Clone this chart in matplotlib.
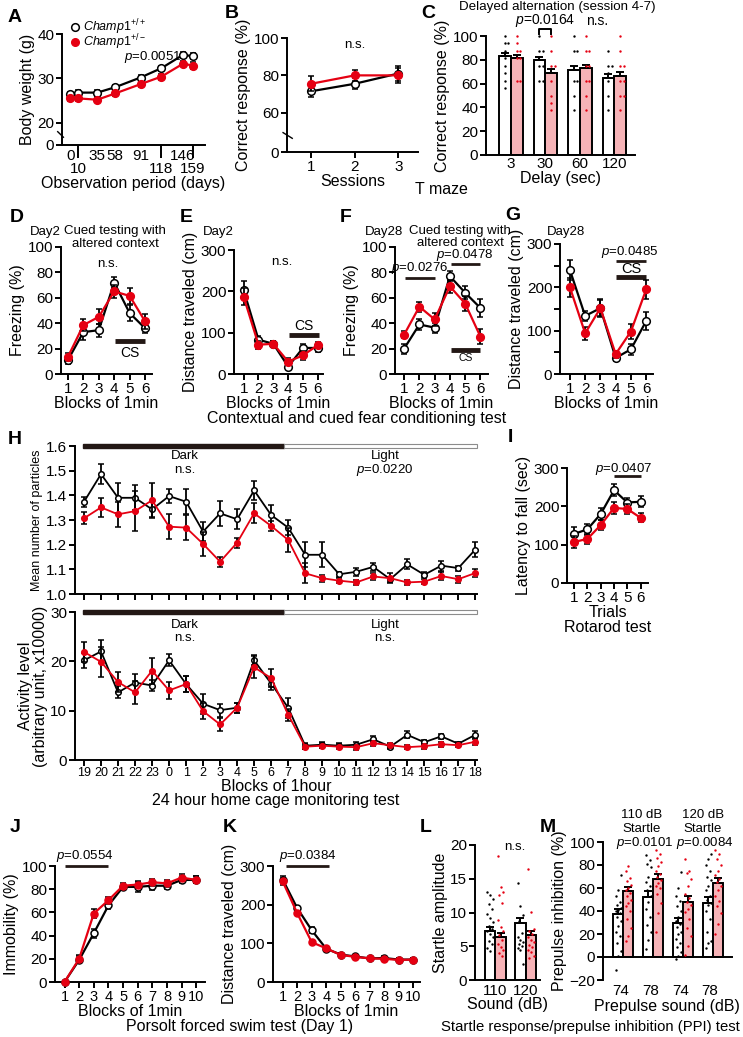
import numpy as np
import matplotlib
matplotlib.use("Agg")
from matplotlib import pyplot as plt
from matplotlib.patches import Rectangle
from matplotlib import transforms as mtransforms

RED = "#E50012"
PINK = "#F6B3B7"
W, H = 743, 1037
TICK = 11
LBL = 11.5
SMALL = 9.5

# A body weight
days = [0, 10, 35, 58, 91, 118, 146, 159]
bw_wt = [26.5, 26.8, 26.8, 28.0, 30.2, 32.3, 35.3, 35.0]
bw_wt_err = [0.5, 0.5, 0.5, 0.5, 0.6, 0.6, 0.7, 0.7]
bw_het = [25.5, 25.5, 25.2, 26.6, 28.7, 30.4, 33.3, 32.9]
bw_het_err = [0.6, 0.6, 0.5, 0.6, 0.6, 0.7, 0.6, 0.7]

# B T maze sessions
sessions = [1, 2, 3]
tm_wt = [71.5, 75.5, 81.0]
tm_wt_err = [3.0, 3.0, 4.0]
tm_het = [75.5, 80.0, 80.0]
tm_het_err = [4.0, 3.0, 4.0]

# C delayed alternation
delays = ["3", "30", "60", "120"]
da_wt = [83, 79.5, 71.5, 65]
da_wt_err = [3.0, 2.5, 3.5, 3.0]
da_het = [81.5, 69, 73.5, 66.5]
da_het_err = [2.5, 3.5, 2.5, 3.5]
da_wt_dots = [
    [100, 93.75, 93.75, 87.5, 81.25, 75, 68.75, 62.5, 56.25],
    [100, 87.5, 87.5, 75, 75, 62.5, 62.5],
    [100, 87.5, 87.5, 62.5, 62.5, 50, 37.5],
    [87.5, 75, 75, 68.75, 62.5, 50, 37.5],
]
da_het_dots = [
    [100, 93.75, 87.5, 87.5, 81.25, 81.25, 62.5, 62.5],
    [100, 87.5, 75, 75, 62.5, 50, 43.75, 37.5],
    [100, 87.5, 87.5, 75, 75, 62.5, 62.5, 50, 37.5],
    [100, 87.5, 75, 75, 62.5, 62.5, 50, 50, 37.5],
]

# D-G fear conditioning
blocks6 = [1, 2, 3, 4, 5, 6]
d2_frz_wt = [11, 33, 34.5, 72, 48, 36]
d2_frz_wt_err = [3, 6, 5, 4, 6, 4]
d2_frz_het = [13.5, 38.5, 45, 65, 61.5, 41.5]
d2_frz_het_err = [3, 5, 6, 5, 6, 6]
d2_dist_wt = [203, 83, 73, 18, 63, 63]
d2_dist_wt_err = [22, 8, 8, 5, 10, 10]
d2_dist_het = [187, 71, 73, 30, 45, 70]
d2_dist_het_err = [20, 10, 8, 8, 10, 8]
d28_frz_wt = [20, 39, 36.5, 77, 64, 52]
d28_frz_wt_err = [4, 4, 4, 4, 5, 7]
d28_frz_het = [31, 53, 43, 69, 55.5, 29.5]
d28_frz_het_err = [3, 4, 5, 5, 6, 6]
d28_dist_wt = [240, 134, 152, 37, 57, 122]
d28_dist_wt_err = [22, 12, 20, 8, 12, 20]
d28_dist_het = [200, 94, 152, 46, 98, 195]
d28_dist_het_err = [22, 15, 18, 8, 18, 22]

# H home cage monitoring
hours = ["19", "20", "21", "22", "23", "0", "1", "2", "3", "4", "5", "6",
         "7", "8", "9", "10", "11", "12", "13", "14", "15", "16", "17", "18"]
part_wt = [1.374, 1.486, 1.39, 1.39, 1.343, 1.397, 1.374, 1.253, 1.327, 1.303, 1.42, 1.32,
           1.269, 1.159, 1.159, 1.08, 1.09, 1.11, 1.06, 1.12, 1.078, 1.115, 1.105, 1.18]
part_wt_err = [0.02, 0.04, 0.06, 0.05, 0.03, 0.03, 0.05, 0.04, 0.05, 0.04, 0.04, 0.04,
               0.03, 0.05, 0.05, 0.01, 0.015, 0.015, 0.01, 0.02, 0.01, 0.02, 0.01, 0.03]
part_het = [1.307, 1.351, 1.323, 1.336, 1.38, 1.273, 1.269, 1.203, 1.131, 1.208, 1.327, 1.276,
            1.219, 1.084, 1.064, 1.054, 1.047, 1.071, 1.064, 1.047, 1.05, 1.073, 1.06, 1.085]
part_het_err = [0.025, 0.04, 0.05, 0.08, 0.07, 0.05, 0.05, 0.05, 0.02, 0.02, 0.04, 0.02,
                0.05, 0.04, 0.015, 0.01, 0.01, 0.015, 0.02, 0.01, 0.01, 0.015, 0.015, 0.015]
act_wt = [20.2, 22.0, 13.7, 15.7, 15.1, 20.2, 15.4, 11.4, 10.1, 10.6, 20.2, 15.5,
          10.6, 2.9, 3.1, 2.9, 3.1, 4.2, 2.7, 5.1, 3.6, 4.8, 3.3, 5.1]
act_wt_err = [1.5, 2.3, 1.2, 1.8, 1.2, 1.2, 1.6, 2.0, 1.3, 1.0, 1.0, 1.3,
              2.0, 0.6, 0.6, 0.5, 0.5, 0.6, 0.5, 0.7, 0.5, 0.5, 0.4, 0.7]
act_het = [21.9, 19.9, 15.8, 13.7, 18.1, 14.1, 15.4, 9.9, 7.2, 10.6, 18.8, 16.6,
           9.2, 2.7, 2.9, 2.7, 2.6, 3.4, 3.0, 2.6, 2.8, 3.2, 3.0, 3.7]
act_het_err = [2.0, 3.0, 2.0, 2.4, 2.6, 1.8, 1.6, 1.6, 1.3, 1.0, 2.2, 1.8,
               1.2, 0.5, 0.5, 0.5, 0.5, 0.5, 0.5, 0.4, 0.5, 0.5, 0.4, 0.6]

# I rotarod
trials = [1, 2, 3, 4, 5, 6]
rot_wt = [128, 140, 180, 242, 210, 212]
rot_wt_err = [18, 15, 15, 15, 12, 15]
rot_het = [107, 115, 151, 196, 193, 170]
rot_het_err = [15, 12, 13, 15, 12, 12]

# J-K forced swim
blocks10 = [1, 2, 3, 4, 5, 6, 7, 8, 9, 10]
fst_imm_wt = [0, 19, 42, 66, 82, 82, 83, 83, 88, 88]
fst_imm_wt_err = [1, 3, 4, 3, 2, 4, 4, 3, 3, 3]
fst_imm_het = [0, 20, 59, 70.5, 83, 84, 86, 85, 90, 88]
fst_imm_het_err = [1, 3, 4, 3, 2, 3, 3, 3, 3, 3]
fst_dist_wt = [265, 191, 134, 86, 71, 66, 61, 62, 58, 58]
fst_dist_wt_err = [8, 6, 8, 5, 4, 4, 4, 4, 4, 4]
fst_dist_het = [260, 178, 103, 87, 70, 65, 61, 60, 57, 58]
fst_dist_het_err = [8, 6, 5, 5, 4, 4, 4, 4, 4, 4]

# L startle
startle_db = ["110", "120"]
startle_wt = [7.3, 8.4]
startle_wt_err = [0.6, 0.8]
startle_het = [6.4, 6.6]
startle_het_err = [0.6, 0.7]
startle_wt_dots = [
    [13.0, 12.6, 12.0, 11.2, 10.5, 9.8, 9.2, 8.6, 8.0, 7.6, 7.2, 6.8, 6.3, 5.8, 5.3, 4.8, 4.3],
    [14.3, 11.0, 9.6, 8.8, 7.0, 6.3, 5.9, 5.6, 5.3, 5.0, 4.7, 4.4, 2.3],
]
startle_het_dots = [
    [18.3, 13.8, 13.1, 12.6, 11.4, 8.9, 7.9, 7.2, 6.6, 6.0, 5.4, 4.9, 4.5, 4.0, 3.6],
    [16.5, 10.1, 7.6, 7.2, 6.8, 6.4, 6.0, 5.6, 5.2, 4.9, 4.5, 4.1, 3.6, 3.2],
]

# M prepulse inhibition
ppi_labels = ["74", "78", "74", "78"]
ppi_wt = [37.5, 52.5, 29.5, 47]
ppi_wt_err = [4, 5, 4, 5]
ppi_het = [57, 68, 48, 64.5]
ppi_het_err = [4, 4, 5, 4]
ppi_wt_dots = [
    [-11, 1, 5, 12, 18, 22, 27, 31, 35, 38, 40, 41, 43, 45, 48, 53, 58, 71],
    [7, 15, 22, 28, 35, 42, 48, 53, 58, 62, 65, 70, 78, 81, 84, 89],
    [-2, 1, 4, 9, 12, 16, 20, 22, 26, 29, 31, 35, 40, 44, 49, 53, 60, 74],
    [8, 12, 14, 22, 33, 40, 45, 47, 50, 53, 58, 62, 67, 70, 75, 80, 85, 90],
]
ppi_het_dots = [
    [14, 18, 25, 33, 40, 44, 47, 50, 53, 56, 58, 60, 63, 66, 69, 75, 79],
    [22, 38, 47, 55, 60, 62, 64, 67, 70, 72, 75, 79, 83, 86, 90, 93],
    [2, 10, 18, 25, 33, 39, 42, 45, 48, 51, 55, 62, 68, 73, 75, 85],
    [20, 29, 38, 44, 49, 53, 58, 62, 65, 68, 71, 75, 80, 85, 90, 93],
]

plt.rcParams["font.family"] = ["Liberation Sans", "DejaVu Sans"]
plt.rcParams["mathtext.fontset"] = "custom"
plt.rcParams["mathtext.rm"] = "Liberation Sans"
plt.rcParams["mathtext.it"] = "Liberation Sans:italic"
plt.rcParams["mathtext.sf"] = "Liberation Sans"
plt.rcParams["axes.linewidth"] = 1.4

fig = plt.figure(figsize=(W / 100, H / 100), dpi=100)


def px_axes(x0, y0, x1, y1):
    # axes rectangle given in picture pixels (top-left origin)
    return fig.add_axes([x0 / W, 1 - y1 / H, (x1 - x0) / W, (y1 - y0) / H])


def ftext(x, y, s, **kw):
    kw.setdefault("ha", "center")
    kw.setdefault("va", "center")
    fig.text(x / W, 1 - y / H, s, **kw)


def clean(ax, fs=TICK):
    ax.spines["top"].set_visible(False)
    ax.spines["right"].set_visible(False)
    ax.tick_params(labelsize=fs, width=1.4, length=4, pad=1.5)


def pair(ax, x, wt, wt_err, het, het_err, ms=5.5, lw=1.6, cap=2.5):
    kw = dict(fmt="-o", ms=ms, lw=lw, ecolor="black", elinewidth=1.3,
              capsize=cap, capthick=1.3, mew=1.1, clip_on=False)
    ax.errorbar(x, wt, yerr=wt_err, color="black", mfc="white", mec="black", zorder=3, **kw)
    ax.errorbar(x, het, yerr=het_err, color=RED, mfc=RED, mec=RED, zorder=4, **kw)


def spread(vals, step, mode):
    offs = []
    if mode == "dup":
        seen = {}
        for v in vals:
            n = seen.get(v, 0)
            seen[v] = n + 1
            offs.append([0, 1, -1, 2, -2][n % 5] * step)
    else:
        for i, v in enumerate(vals):
            offs.append([-1, 0, 1, -0.5, 0.5][i % 5] * step)
    return np.array(offs)


def bars(ax, wt, wt_err, het, het_err, wt_dots, het_dots, w, step, mode):
    x = np.arange(len(wt))
    ax.bar(x - w / 2, wt, w, color="white", edgecolor="black", lw=1.4, zorder=2)
    ax.bar(x + w / 2, het, w, color=PINK, edgecolor="black", lw=1.4, zorder=2)
    z = np.zeros(len(wt))
    ax.errorbar(x - w / 2, wt, yerr=[z, wt_err], fmt="none", ecolor="black",
                elinewidth=1.4, capsize=3, capthick=1.4, zorder=3)
    ax.errorbar(x + w / 2, het, yerr=[z, het_err], fmt="none", ecolor="black",
                elinewidth=1.4, capsize=3, capthick=1.4, zorder=3)
    for i in range(len(wt)):
        ax.scatter(x[i] - w / 2 + spread(wt_dots[i], step, mode), wt_dots[i],
                   s=3, color="black", lw=0, zorder=5, clip_on=False)
        ax.scatter(x[i] + w / 2 + spread(het_dots[i], step, mode), het_dots[i],
                   s=3, color=RED, lw=0, zorder=5, clip_on=False)
    ax.set_xticks(x, [])
    ax.tick_params(axis="x", length=0)


def pbar(ax, x0, x1, y, lw=2.2):
    ax.plot([x0, x1], [y, y], color="#231815", lw=lw, solid_capstyle="butt", clip_on=False)


def ybreak(ax, xa, ya):
    ax.plot(xa, ya, transform=ax.transAxes, color="black", lw=1.0, clip_on=False)


PV = r"$p$"

# ---- A ----
ax = px_axes(62, 34, 205, 145)
clean(ax)
pair(ax, days, bw_wt, bw_wt_err, bw_het, bw_het_err)
ax.set_ylim(15, 40)
ax.set_yticks([15, 20, 30, 40], ["0", "20", "30", "40"])
ax.set_xlim(-10.7, 174.5)
ax.set_xticks([0, 35, 58, 91, 146], ["0", "35", "58", "91", "146"])
ax.set_xticks([10, 118, 159], ["10", "118", "159"], minor=True)
ax.tick_params(axis="x", which="major", length=0, pad=3)
ax.tick_params(axis="x", which="minor", length=9.5, width=1.4, pad=3, labelsize=TICK)
ax.set_ylabel("Body weight (g)", fontsize=LBL, labelpad=2)
ax.set_xlabel("Observation period (days)", fontsize=LBL, labelpad=0)
ybreak(ax, [-0.03, 0.01], [0.12, 0.07])
ax.plot([0.09], [1.065], "o", ms=5.5, mfc="white", mec="black", mew=1.1,
        transform=ax.transAxes, clip_on=False)
ax.plot([0.09], [0.925], "o", ms=5.5, mfc=RED, mec=RED, transform=ax.transAxes, clip_on=False)
ax.text(0.145, 1.065, r"$\mathit{Champ1}^{+/+}$", transform=ax.transAxes, fontsize=9, va="center")
ax.text(0.145, 0.925, r"$\mathit{Champ1}^{+/-}$", transform=ax.transAxes, fontsize=9, va="center")
ax.text(0.635, 0.79, PV + "=0.0051", transform=ax.transAxes, fontsize=SMALL, ha="center", va="center")

# ---- B ----
ax = px_axes(287, 38, 418, 152)
clean(ax)
pair(ax, sessions, tm_wt, tm_wt_err, tm_het, tm_het_err)
ax.set_ylim(39, 100)
ax.set_yticks([39, 60, 80, 100], ["0", "60", "80", "100"])
ax.set_xlim(0.45, 3.45)
ax.set_xticks(sessions)
ax.set_ylabel("Correct response (%)", fontsize=LBL, labelpad=2)
ax.set_xlabel("Sessions", fontsize=LBL, labelpad=0)
ybreak(ax, [-0.03, 0.04], [0.17, 0.12])
ax.text(2, 96, "n.s.", fontsize=SMALL, ha="center", va="center")

# ---- C ----
ax = px_axes(486, 36, 635, 155)
clean(ax)
bars(ax, da_wt, da_wt_err, da_het, da_het_err, da_wt_dots, da_het_dots, 0.34, 0.1, "dup")
ax.set_ylim(0, 100)
ax.set_yticks([0, 20, 40, 60, 80, 100])
ax.set_xlim(-0.72, 3.6)
ax.set_xticks(range(4), delays)
ax.set_ylabel("Correct response (%)", fontsize=LBL, labelpad=2)
ax.set_xlabel("Delay (sec)", fontsize=LBL, labelpad=0)
ax.plot([0.83, 0.83, 1.17, 1.17], [102, 106, 106, 102], color="black", lw=1.4, clip_on=False)
ax.text(1.0, 113, PV + "=0.0164", fontsize=10, ha="center", va="center")
ax.text(2.5, 113, "n.s.", fontsize=10, ha="center", va="center")
ftext(557, 7, "Delayed alternation (session 4-7)", fontsize=9.6)
ftext(441, 190, "T maze", fontsize=LBL)


def six_block(ax, ymax, yticks):
    clean(ax)
    ax.set_ylim(0, ymax)
    ax.set_yticks(yticks)
    ax.set_xticks(blocks6)
    ax.set_xlabel("Blocks of 1min", fontsize=LBL, labelpad=0)


# ---- D ----
ax = px_axes(61, 247, 152, 374)
pair(ax, blocks6, d2_frz_wt, d2_frz_wt_err, d2_frz_het, d2_frz_het_err)
six_block(ax, 100, [0, 20, 40, 60, 80, 100])
ax.set_xlim(0.55, 6.45)
ax.set_ylabel("Freezing (%)", fontsize=LBL, labelpad=2)
pbar(ax, 4.05, 6.0, 26, lw=3.5)
ax.text(5.0, 16.5, "CS", fontsize=10, ha="center", va="center")
ax.text(3.6, 87, "n.s.", fontsize=SMALL, ha="center", va="center")
ftext(30, 232, "Day2", fontsize=SMALL, ha="left")
ftext(115, 231, "Cued testing with", fontsize=SMALL)
ftext(115, 244, "altered context", fontsize=SMALL)

# ---- E ----
ax = px_axes(234, 250, 323, 374)
pair(ax, blocks6, d2_dist_wt, d2_dist_wt_err, d2_dist_het, d2_dist_het_err)
six_block(ax, 300, [0, 100, 200, 300])
ax.set_xlim(0.35, 6.35)
ax.set_ylabel("Distance traveled (cm)", fontsize=LBL, labelpad=2)
pbar(ax, 4.04, 6.1, 94, lw=3.5)
ax.text(5.05, 116, "CS", fontsize=10, ha="center", va="center")
ax.text(3.6, 270, "n.s.", fontsize=SMALL, ha="center", va="center")
ftext(203, 232, "Day2", fontsize=SMALL, ha="left")

# ---- F ----
ax = px_axes(395, 247, 488, 374)
pair(ax, blocks6, d28_frz_wt, d28_frz_wt_err, d28_frz_het, d28_frz_het_err)
six_block(ax, 100, [0, 20, 40, 60, 80, 100])
ax.set_xlim(0.4, 6.5)
ax.set_ylabel("Freezing (%)", fontsize=LBL, labelpad=2)
pbar(ax, 1.07, 3.0, 75.6, lw=2)
pbar(ax, 4.1, 6.0, 87, lw=2)
pbar(ax, 4.1, 6.0, 19, lw=3.5)
ax.text(5.05, 12.5, "CS", fontsize=7.5, ha="center", va="center")
ax.text(2.05, 83.5, PV + "=0.0276", fontsize=SMALL, ha="center", va="center")
ax.text(5.0, 93.5, PV + "=0.0478", fontsize=SMALL, ha="center", va="center")
ftext(365, 232, "Day28", fontsize=SMALL, ha="left")
ftext(460, 231, "Cued testing with", fontsize=SMALL)
ftext(460, 243, "altered context", fontsize=SMALL)
ftext(357, 418, "Contextual and cued fear conditioning test", fontsize=LBL)

# ---- G ----
ax = px_axes(560, 244, 653, 374)
pair(ax, blocks6, d28_dist_wt, d28_dist_wt_err, d28_dist_het, d28_dist_het_err)
six_block(ax, 300, [0, 100, 200, 300])
ax.set_yticks([50, 150, 250], minor=True)
ax.tick_params(axis="y", which="minor", length=4, width=1.4)
ax.set_xlim(0.35, 6.45)
ax.set_ylabel("Distance traveled (cm)", fontsize=LBL, labelpad=2)
pbar(ax, 4.0, 6.0, 261, lw=2)
pbar(ax, 4.0, 6.0, 224, lw=3.5)
ax.text(5.0, 242, "CS", fontsize=10.5, ha="center", va="center")
ax.text(4.9, 282, PV + "=0.0485", fontsize=SMALL, ha="center", va="center")
ftext(547, 232, "Day28", fontsize=SMALL, ha="left")


# ---- H ----
def light_dark(ax, h_px):
    trans = mtransforms.blended_transform_factory(ax.transData, ax.transAxes)
    hh = h_px / ax.bbox.height
    ax.add_patch(Rectangle((-0.05, 1 - hh / 2), 11.8, hh, transform=trans,
                           color="#231815", clip_on=False, zorder=6))
    ax.add_patch(Rectangle((11.75, 1 - hh / 2), 11.35, hh, transform=trans,
                           facecolor="white", edgecolor="#8c8c8c", lw=0.8, clip_on=False, zorder=6))


xh = np.arange(len(hours))
ax = px_axes(75, 446, 477, 594)
clean(ax)
pair(ax, xh, part_wt, part_wt_err, part_het, part_het_err, ms=4, lw=1.3, cap=2.2)
ax.set_ylim(1.0, 1.6)
ax.set_yticks([1.0, 1.1, 1.2, 1.3, 1.4, 1.5, 1.6])
ax.set_xlim(-0.53, 23.1)
ax.set_xticks(xh, [])
ax.set_ylabel("Mean number of particles", fontsize=9, labelpad=2)
light_dark(ax, 4.5)
ax.text(5.9, 1.559, "Dark", fontsize=SMALL, ha="center", va="center")
ax.text(5.9, 1.503, "n.s.", fontsize=SMALL, ha="center", va="center")
ax.text(17.7, 1.559, "Light", fontsize=SMALL, ha="center", va="center")
ax.text(17.7, 1.503, PV + "=0.0220", fontsize=SMALL, ha="center", va="center")

ax = px_axes(75, 612, 477, 760)
clean(ax)
pair(ax, xh, act_wt, act_wt_err, act_het, act_het_err, ms=4, lw=1.3, cap=2.2)
ax.set_ylim(0, 30)
ax.set_yticks([0, 10, 20, 30])
ax.set_xlim(-0.53, 23.1)
ax.set_xticks(xh, hours)
ax.tick_params(axis="x", labelsize=9, pad=1)
ax.set_ylabel("Activity level\n(arbitrary unit, x10000)", fontsize=LBL, labelpad=2, linespacing=1.0)
ax.set_xlabel("Blocks of 1hour", fontsize=LBL, labelpad=0)
light_dark(ax, 4.5)
ax.text(5.9, 27.4, "Dark", fontsize=SMALL, ha="center", va="center")
ax.text(5.9, 24.7, "n.s.", fontsize=SMALL, ha="center", va="center")
ax.text(17.7, 27.4, "Light", fontsize=SMALL, ha="center", va="center")
ax.text(17.7, 24.7, "n.s.", fontsize=SMALL, ha="center", va="center")
ftext(276, 801, "24 hour home cage monitoring test", fontsize=LBL)

# ---- I ----
ax = px_axes(567, 468, 648, 583)
clean(ax)
pair(ax, trials, rot_wt, rot_wt_err, rot_het, rot_het_err)
ax.set_ylim(0, 300)
ax.set_yticks([0, 100, 200, 300])
ax.set_xlim(0.47, 6.55)
ax.set_xticks(trials)
ax.set_ylabel("Latency to fall (sec)", fontsize=LBL, labelpad=2)
ax.set_xlabel("Trials", fontsize=LBL, labelpad=0)
pbar(ax, 4.0, 6.05, 279, lw=2)
ax.text(4.7, 297, PV + "=0.0407", fontsize=SMALL, ha="center", va="center")
ftext(608, 628, "Rotarod test", fontsize=LBL)

# ---- J ----
ax = px_axes(55, 866, 205, 982)
clean(ax)
pair(ax, blocks10, fst_imm_wt, fst_imm_wt_err, fst_imm_het, fst_imm_het_err, ms=5, cap=2.2)
ax.set_ylim(0, 100)
ax.set_yticks([0, 20, 40, 60, 80, 100])
ax.set_xlim(0.35, 10.6)
ax.set_xticks(blocks10)
ax.tick_params(axis="x", labelsize=10.5)
ax.set_ylabel("Immobility (%)", fontsize=LBL, labelpad=2)
ax.set_xlabel("Blocks of 1min", fontsize=LBL, labelpad=0)
pbar(ax, 1.0, 4.0, 100, lw=2)
ax.text(2.4, 109, PV + "=0.0554", fontsize=SMALL, ha="center", va="center")
ftext(240, 1027, "Porsolt forced swim test (Day 1)", fontsize=LBL)

# ---- K ----
ax = px_axes(273, 866, 420, 982)
clean(ax)
pair(ax, blocks10, fst_dist_wt, fst_dist_wt_err, fst_dist_het, fst_dist_het_err, ms=5, cap=2.2)
ax.set_ylim(0, 300)
ax.set_yticks([0, 100, 200, 300])
ax.set_xlim(0.33, 10.47)
ax.set_xticks(blocks10)
ax.tick_params(axis="x", labelsize=10.5)
ax.set_ylabel("Distance traveled (cm)", fontsize=LBL, labelpad=2)
ax.set_xlabel("Blocks of 1min", fontsize=LBL, labelpad=0)
pbar(ax, 1.2, 4.2, 300, lw=2)
ax.text(2.7, 325, PV + "=0.0384", fontsize=SMALL, ha="center", va="center")

# ---- L ----
ax = px_axes(475, 845, 540, 980)
clean(ax)
bars(ax, startle_wt, startle_wt_err, startle_het, startle_het_err,
     startle_wt_dots, startle_het_dots, 0.35, 0.09, "cycle")
ax.set_ylim(0, 20)
ax.set_yticks([0, 5, 10, 15, 20])
ax.set_xlim(-0.68, 1.48)
ax.set_xticks([0, 1], startle_db)
ax.tick_params(axis="x", pad=3)
ax.set_ylabel("Startle amplitude", fontsize=LBL, labelpad=2)
ax.set_xlabel("Sound (dB)", fontsize=LBL, labelpad=-1)
ftext(515, 847, "n.s.", fontsize=SMALL)

# ---- M ----
ax = px_axes(603, 842, 732, 980)
clean(ax)
bars(ax, ppi_wt, ppi_wt_err, ppi_het, ppi_het_err, ppi_wt_dots, ppi_het_dots, 0.33, 0.09, "cycle")
ax.spines["bottom"].set_position(("data", 0))
ax.set_ylim(-20, 100)
ax.set_yticks([-20, 0, 20, 40, 60, 80, 100])
ax.set_xlim(-0.68, 3.63)
for i, lab in enumerate(ppi_labels):
    ax.text(i - 0.1, -29.5, lab, fontsize=TICK, ha="center", va="center")
ax.set_ylabel("Prepulse inhibition (%)", fontsize=LBL, labelpad=2)
ftext(667, 1007, "Prepulse sound (dB)", fontsize=LBL)
ftext(642, 815, "110 dB", fontsize=SMALL)
ftext(642, 829, "Startle", fontsize=SMALL)
ftext(645, 843, PV + "=0.0101", fontsize=SMALL)
ftext(703, 815, "120 dB", fontsize=SMALL)
ftext(703, 829, "Startle", fontsize=SMALL)
ftext(705, 843, PV + "=0.0084", fontsize=SMALL)
ftext(590, 1027, "Startle response/prepulse inhibition (PPI) test", fontsize=10.7)

# panel letters
for lab, x, y in [("A", 8, 17), ("B", 225, 14), ("C", 421, 13), ("D", 10, 217),
                  ("E", 180, 217), ("F", 340, 217), ("G", 505, 215), ("H", 8, 440),
                  ("I", 508, 438), ("J", 10, 828), ("K", 223, 828), ("L", 420, 828),
                  ("M", 540, 828)]:
    ftext(x, y, lab, fontsize=14, fontweight="bold", ha="left")

fig.savefig("out.png", dpi=100)
